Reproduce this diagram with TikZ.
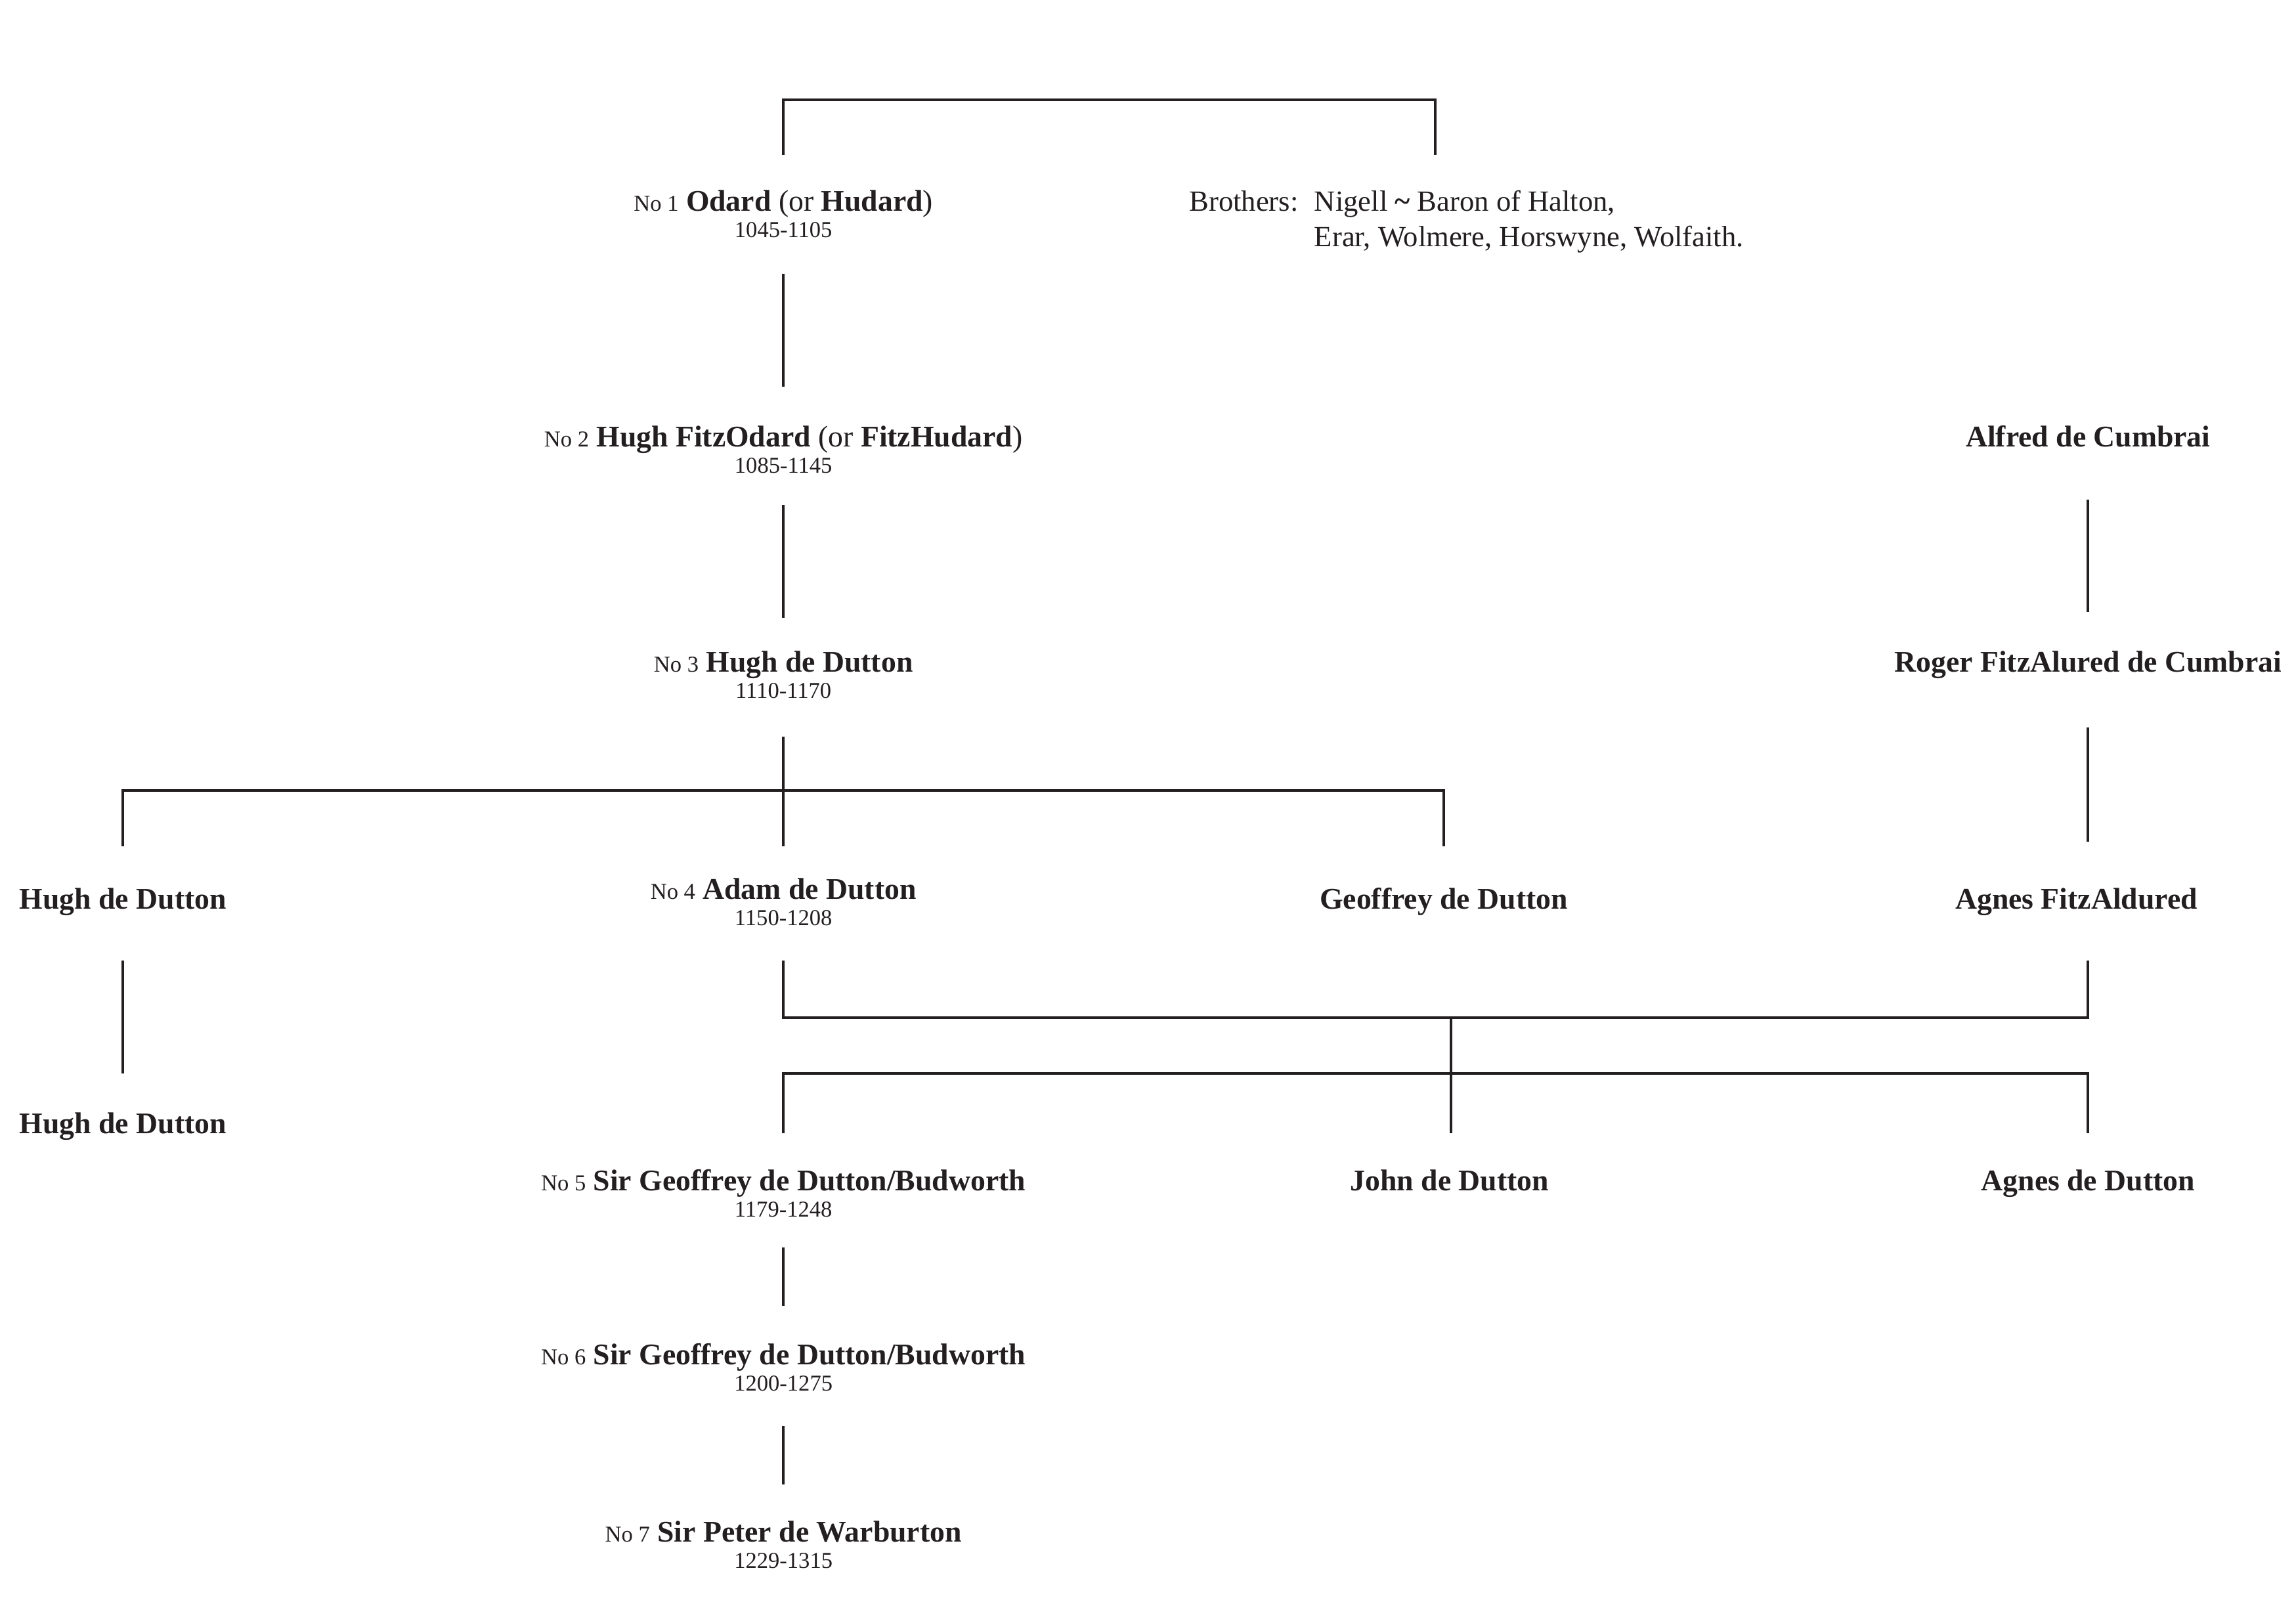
\documentclass[tikz,border=0pt]{standalone}
\usepackage{fontspec}
\setmainfont{Liberation Serif}
\definecolor{ink}{HTML}{231F20}
\newcommand{\nolab}[1]{{\fontsize{15.5}{18}\selectfont #1}}
\begin{document}
\begin{tikzpicture}[x=1pt,y=-1pt,
  conn/.style={draw=ink, line width=1.8pt, line join=miter},
  person/.style={text=ink, anchor=base, inner sep=0pt, font=\fontsize{20.5}{24}\selectfont},
  dates/.style={text=ink, anchor=base, inner sep=0pt, font=\fontsize{15.5}{18}\selectfont}]
\useasboundingbox (0,0) rectangle (1568,1108);

% ---- nodes ----
\node[person] (n1) at (535,144) {\nolab{No 1} \textbf{Odard} (or \textbf{Hudard})};
\node[dates] (n1d) at (535,162) {1045-1105};
\node[person, anchor=base west, font=\fontsize{20}{24.5}\selectfont] (bro) at (812,144)
  {\begin{tabular}[t]{@{}l@{\hspace{11pt}}l@{}}Brothers: & Nigell \textbf{\textasciitilde} Baron of Halton,\\ & Erar, Wolmere, Horswyne, Wolfaith.\end{tabular}};

\node[person] (n2) at (535,305) {\nolab{No 2} \textbf{Hugh FitzOdard} (or \textbf{FitzHudard})};
\node[dates] (n2d) at (535,323) {1085-1145};
\node[person] (alf) at (1426,305) {\textbf{Alfred de Cumbrai}};

\node[person] (n3) at (535,459) {\nolab{No 3} \textbf{Hugh de Dutton}};
\node[dates] (n3d) at (535,477) {1110-1170};
\node[person] (rog) at (1426,459) {\textbf{Roger FitzAlured de Cumbrai}};

\node[person] (hugha) at (84,621) {\textbf{Hugh de Dutton}};
\node[person] (n4) at (535,614) {\nolab{No 4} \textbf{Adam de Dutton}};
\node[dates] (n4d) at (535,632) {1150-1208};
\node[person] (geo) at (986,621) {\textbf{Geoffrey de Dutton}};
\node[person] (agf) at (1418,621) {\textbf{Agnes FitzAldured}};

\node[person] (hughb) at (84,774) {\textbf{Hugh de Dutton}};

\node[person] (n5) at (535,813) {\nolab{No 5} \textbf{Sir Geoffrey de Dutton/Budworth}};
\node[dates] (n5d) at (535,831) {1179-1248};
\node[person] (john) at (990,813) {\textbf{John de Dutton}};
\node[person] (agd) at (1426,813) {\textbf{Agnes de Dutton}};

\node[person] (n6) at (535,932) {\nolab{No 6} \textbf{Sir Geoffrey de Dutton/Budworth}};
\node[dates] (n6d) at (535,950) {1200-1275};

\node[person] (n7) at (535,1053) {\nolab{No 7} \textbf{Sir Peter de Warburton}};
\node[dates] (n7d) at (535,1071) {1229-1315};

% ---- connector end points ----
\coordinate (a1) at (535,106);  \coordinate (a2) at (980,106);
\coordinate (b1) at (535,187);  \coordinate (b2) at (535,264);
\coordinate (c1) at (535,345);  \coordinate (c2) at (535,422);
\coordinate (d0) at (535,503);
\coordinate (d1) at (84,578);   \coordinate (d2) at (535,578);  \coordinate (d3) at (986,578);
\coordinate (e1) at (1426,341); \coordinate (e2) at (1426,418);
\coordinate (f1) at (1426,497); \coordinate (f2) at (1426,575);
\coordinate (g1) at (84,656);   \coordinate (g2) at (84,733);
\coordinate (m1) at (535,656);  \coordinate (m2) at (1426,656);
\coordinate (mm) at (991,695);
\coordinate (k1) at (535,774);  \coordinate (k2) at (991,774);  \coordinate (k3) at (1426,774);
\coordinate (p1) at (535,852);  \coordinate (p2) at (535,892);
\coordinate (q1) at (535,974);  \coordinate (q2) at (535,1014);

% ---- connectors ----
\draw[conn] (a1) -- (535,68) -- (980,68) -- (a2);
\draw[conn] (b1) -- (b2);
\draw[conn] (c1) -- (c2);
\draw[conn] (d0) -- (d2);
\draw[conn] (d1) -- (84,540) -- (986,540) -- (d3);
\draw[conn] (e1) -- (e2);
\draw[conn] (f1) -- (f2);
\draw[conn] (g1) -- (g2);
\draw[conn] (m1) -- (535,695) -- (1426,695) -- (m2);
\draw[conn] (mm) -- (k2);
\draw[conn] (k1) -- (535,733) -- (1426,733) -- (k3);
\draw[conn] (p1) -- (p2);
\draw[conn] (q1) -- (q2);
\end{tikzpicture}
\end{document}
